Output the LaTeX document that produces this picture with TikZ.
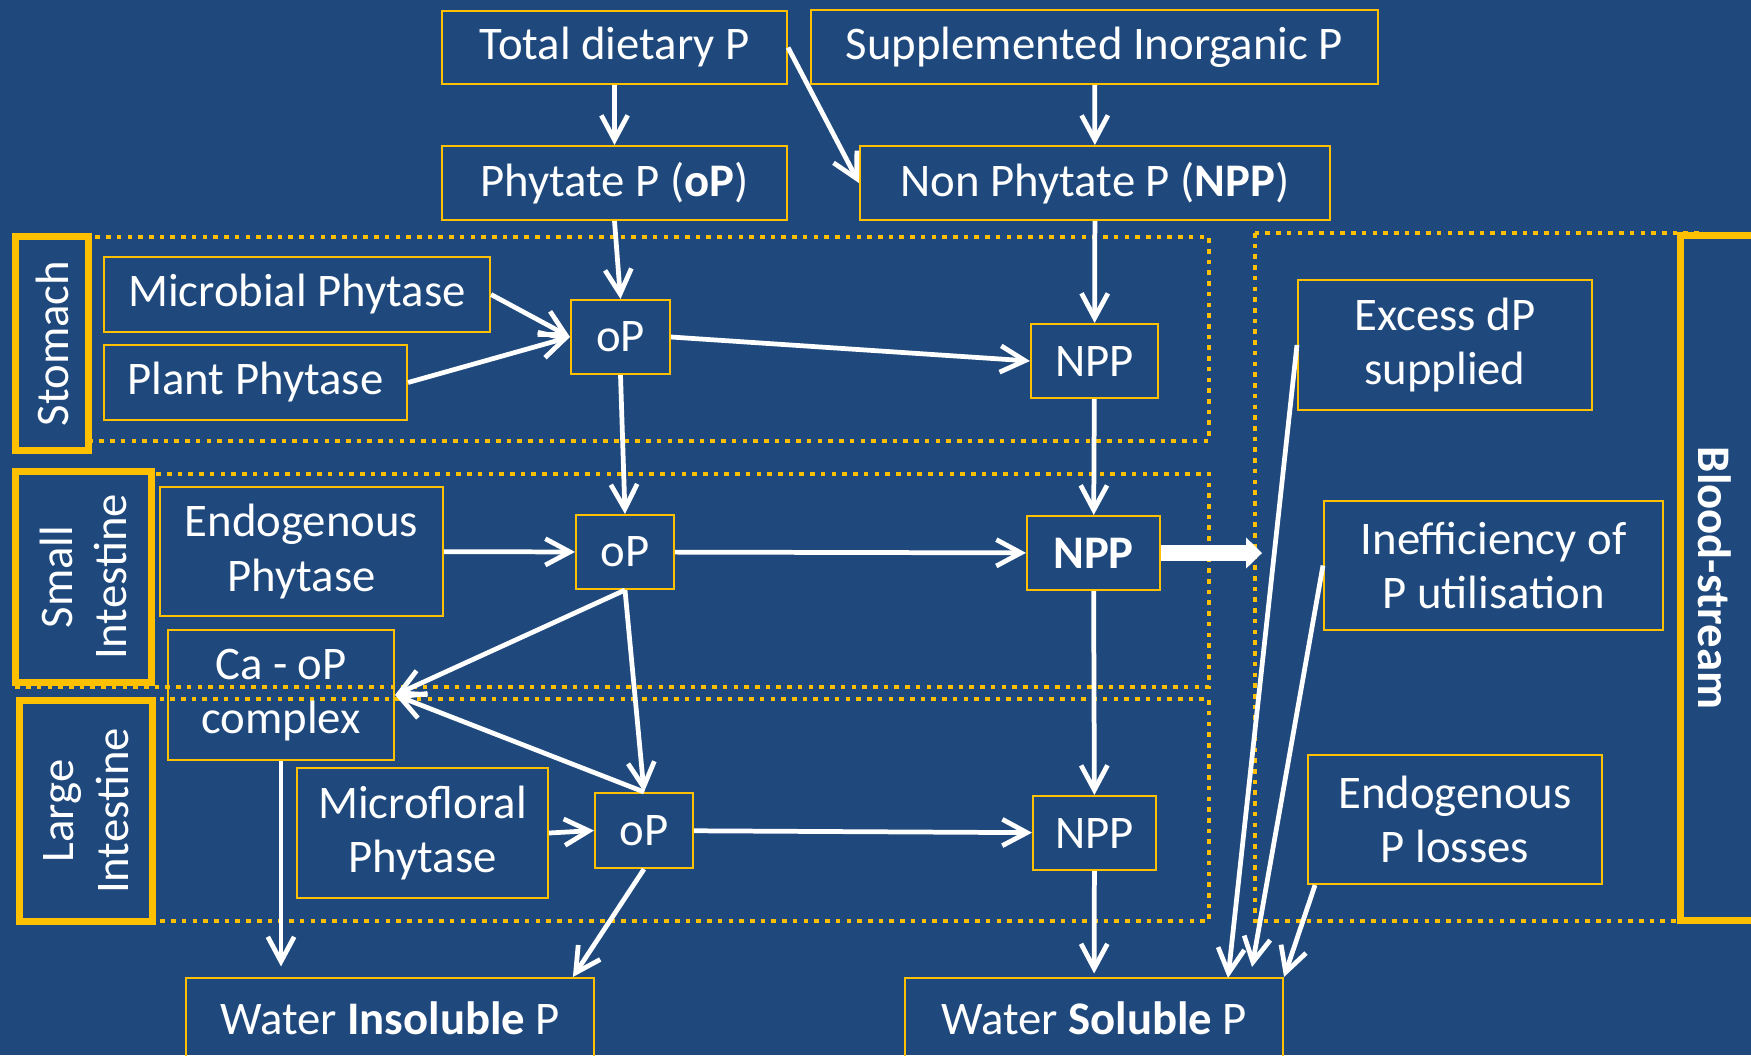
\documentclass[tikz,border=0pt]{standalone}
\usepackage{fontspec}
\setmainfont{Carlito}
\usetikzlibrary{arrows.meta}

\definecolor{slate}{HTML}{1F497D}
\definecolor{amber}{HTML}{FFC000}
\newcommand{\diagfont}{\fontsize{13.3pt}{15.5pt}\selectfont}

\tikzset{
  sz/.style 2 args={minimum width=#1*0.1mm, minimum height=#2*0.1mm},
  pbox/.style={draw=amber, line width=0.6pt, inner sep=0pt, align=center, text=white, font=\diagfont},
  gut/.style={draw=amber, line width=2pt, fill=slate, inner sep=0pt, align=center, text=white, font=\diagfont},
  gutframe/.style={draw=amber, line width=2pt, fill=slate},
  zone/.style={draw=amber, line width=1.3pt, dash pattern=on 1.3pt off 1.75pt},
  flow/.style={white, line width=1.35pt, -{Straight Barb[length=7pt,width=7.5pt]}},
  bigflow/.style={white, line width=4.6pt, -{Triangle[length=4.5pt,width=8.8pt,line width=0pt]}},
}

\begin{document}
\begin{tikzpicture}[x=0.1mm, y=-0.1mm]
  \useasboundingbox (0,0) rectangle (1751,1055);
  \fill[slate] (0,0) rectangle (1751,1055);

  % gut regions
  \draw[zone] (14,237) rectangle (1209,441);
  \draw[zone] (14,474) rectangle (1209,687);
  \draw[zone] (18,699) rectangle (1209,921);
  \draw[zone] (1255,233) rectangle (1700,921);

  % diet
  \node[pbox, sz={345}{73}] (tdp) at (614.5,47.5) {Total dietary P};
  \node[pbox, sz={567}{74}] (sip) at (1094.5,47) {Supplemented Inorganic P};
  \node[pbox, sz={345}{74}] (php) at (614.5,183) {Phytate P (\textbf{oP})};
  \node[pbox, sz={470}{74}] (npp) at (1095,183) {Non Phytate P (\textbf{NPP})};

  % stomach
  \node[gut, rotate=90, sz={214}{73}] (stlab) at (52,343.5) {Stomach};
  \node[pbox, sz={386}{75}] (mph) at (297,294.5) {Microbial Phytase};
  \node[pbox, sz={303}{75}] (pph) at (255.5,382.5) {Plant Phytase};
  \node[pbox, sz={99}{74}] (op1) at (620.5,337) {oP};
  \node[pbox, sz={127}{74}] (npp1) at (1094.5,361) {NPP};

  % small intestine
  \node[gut, rotate=90, sz={211}{136}] (silab) at (83.5,577) {Small\\Intestine};
  \node[pbox, sz={283}{129}] (eph) at (301.5,551.5) {Endogenous\\Phytase};
  \node[pbox, sz={98}{74}] (op2) at (625,552) {oP};
  \node[pbox, sz={133}{74}] (npp2) at (1093.5,553) {\textbf{NPP}};
  \node[pbox, sz={226}{130}] (caop) at (281,695) {Ca - oP\\complex};

  % large intestine
  \node[gut, rotate=90, sz={221}{133}] (lilab) at (86,811) {Large\\Intestine};
  \node[pbox, sz={251}{130}] (mfp) at (422.5,833) {Microfloral\\Phytase};
  \node[pbox, sz={98}{75}] (op3) at (644,830.5) {oP};
  \node[pbox, sz={123}{74}] (npp3) at (1094.5,833) {NPP};

  % excretion
  \node[pbox, sz={408}{80}] (wip) at (390,1018) {Water \textbf{Insoluble} P};
  \node[pbox, sz={378}{80}] (wsp) at (1094,1018) {Water \textbf{Soluble} P};

  % blood-stream
  \draw[gutframe] (1680.5,235.5) rectangle (1800,920.5);
  \node[rotate=-90, text=white, font=\diagfont\bfseries] (bs) at (1715,578) {Blood-stream};
  \node[pbox, sz={294}{130}] (exdp) at (1445,345) {Excess dP\\supplied};
  \node[pbox, sz={339}{129}] (ineff) at (1493.5,565.5) {Inefficiency of\\P utilisation};
  \node[pbox, sz={294}{129}] (endl) at (1455,819.5) {Endogenous\\P losses};

  \coordinate (bsin) at (1262,553);
  \coordinate (ws1) at (1228,978);
  \coordinate (ws2) at (1252,967);

  % flows
  \draw[flow] (tdp) -- (php);
  \draw[flow] (tdp.east) -- (npp.west);
  \draw[flow] (sip) -- (npp);
  \draw[flow] (php.south) -- (op1.north);
  \draw[flow] (npp) -- (npp1);
  \draw[flow] (mph.east) -- (op1.west);
  \draw[flow] (pph.east) -- (op1.west);
  \draw[flow] (op1.east) -- (npp1.west);
  \draw[flow] (op1.south) -- (op2.north);
  \draw[flow] (npp1) -- (npp2);
  \draw[flow] (eph) -- (op2);
  \draw[flow] (op2) -- (npp2);
  \draw[bigflow] (npp2.east) -- (bsin);
  \draw[flow] (op2.south) -- (caop.east);
  \draw[flow] (op2.south) -- (op3.north);
  \draw[flow] (op3.north) -- (caop.east);
  \draw[flow] (npp2) -- (npp3);
  \draw[flow] (mfp.east) -- (op3.west);
  \draw[flow] (op3) -- (npp3);
  \draw[flow, shorten >=3pt] (caop) -- (caop |- wip.north);
  \draw[flow] (op3.south) -- ([xshift=-6.3pt]wip.north east);
  \draw[flow, shorten >=1pt] (npp3) -- (wsp);
  \draw[flow] (exdp.west) -- (ws1);
  \draw[flow] (ineff.west) -- (ws2);
  \draw[flow] ([xshift=2.3pt]endl.south west) -- (wsp.north east);
\end{tikzpicture}
\end{document}
